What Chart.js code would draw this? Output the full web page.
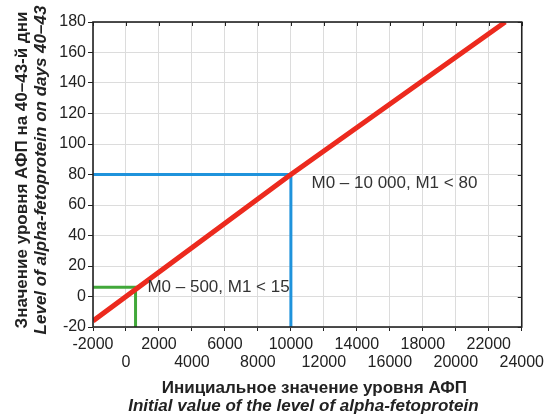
<!DOCTYPE html>
<html>
<head>
<meta charset="utf-8">
<script src="https://cdn.jsdelivr.net/npm/chart.js@4"></script>
<style>
  html, body { margin: 0; padding: 0; background: #fff; }
  #wrap { width: 549px; height: 418px; }
</style>
</head>
<body>
<div id="wrap"><canvas id="chart" width="549" height="418"></canvas></div>
<script>
// axis ranges and ticks
const xTicks = [-2000, 0, 2000, 4000, 6000, 8000, 10000, 12000, 14000, 16000, 18000, 20000, 22000, 24000];
const yTicks = [-20, 0, 20, 40, 60, 80, 100, 120, 140, 160, 180];

// regression line
const lineX = [-2000, 10000, 23000];
const lineY = [-16, 80, 180];

// threshold guides
const blueX = [-2000, 10000, 10000];
const blueY = [80, 80, -20];
const greenX = [-2000, 580, 580];
const greenY = [6, 6, -20];

// annotation labels
const notes = [
  { text: 'M0 – 10 000, M1 < 80', x: 11250, y: 74 },
  { text: 'M0 – 500, M1 < 15', x: 1300, y: 6 }
];

const yTitle = ['Значение уровня АФП на 40–43-й дни', 'Level of alpha-fetoprotein on days 40–43'];
const xTitle = ['Инициальное значение уровня АФП', 'Initial value of the level of alpha-fetoprotein'];

const pts = (xs, ys) => xs.map((x, i) => ({ x: x, y: ys[i] }));
const FONT = '"Liberation Sans", Arial, sans-serif';

const framePlugin = {
  id: 'frame',
  afterDatasetsDraw(chart) {
    const { ctx, chartArea: a, scales } = chart;
    ctx.save();
    // ticks on top and right
    ctx.strokeStyle = '#222';
    ctx.lineWidth = 1;
    ctx.beginPath();
    xTicks.forEach(v => {
      const px = Math.round(scales.x.getPixelForValue(v)) + 0.5;
      ctx.moveTo(px, a.top); ctx.lineTo(px, a.top + 4);
    });
    yTicks.forEach(v => {
      const py = Math.round(scales.y.getPixelForValue(v)) + 0.5;
      ctx.moveTo(a.right, py); ctx.lineTo(a.right - 4, py);
    });
    ctx.stroke();
    ctx.lineWidth = 1.6;
    ctx.strokeRect(a.left, a.top, a.right - a.left, a.bottom - a.top);

    // annotations
    ctx.fillStyle = '#333';
    ctx.font = '17px ' + FONT;
    ctx.textBaseline = 'middle';
    ctx.textAlign = 'left';
    notes.forEach(n => {
      ctx.fillText(n.text, scales.x.getPixelForValue(n.x), scales.y.getPixelForValue(n.y));
    });

    // axis titles
    ctx.fillStyle = '#222';
    ctx.textAlign = 'center';
    const cx = (a.left + a.right) / 2;
    ctx.font = 'bold 17px ' + FONT;
    ctx.fillText(xTitle[0], cx + 7, 388);
    ctx.font = 'italic bold 17px ' + FONT;
    ctx.fillText(xTitle[1], cx - 4, 406);

    ctx.translate(22, 170);
    ctx.rotate(-Math.PI / 2);
    ctx.font = 'bold 17px ' + FONT;
    ctx.fillText(yTitle[0], 0, 0);
    ctx.font = 'italic bold 17px ' + FONT;
    ctx.fillText(yTitle[1], 0, 19);
    ctx.restore();
  }
};

new Chart(document.getElementById('chart'), {
  type: 'line',
  data: {
    datasets: [
      { data: pts(lineX, lineY), borderColor: '#ec2a1e', borderWidth: 5, order: 0 },
      { data: pts(blueX, blueY), borderColor: '#1f93dc', borderWidth: 3, order: 1 },
      { data: pts(greenX, greenY), borderColor: '#41a83a', borderWidth: 3, order: 1 }
    ]
  },
  options: {
    responsive: false,
    animation: false,
    layout: { padding: { left: 0, right: 24, top: 22, bottom: 0 } },
    elements: { point: { radius: 0 }, line: { tension: 0, borderCapStyle: 'butt' } },
    plugins: { legend: { display: false }, tooltip: { enabled: false } },
    scales: {
      x: {
        type: 'linear', min: -2000, max: 24000,
        afterFit: s => { s.height = 91; },
        afterBuildTicks: s => { s.ticks = xTicks.map(v => ({ value: v })); },
        grid: { color: '#dcdcdc', tickColor: '#222', tickLength: 4 },
        border: { display: false },
        ticks: {
          autoSkip: false, maxRotation: 0, padding: 5, color: '#222',
          font: { family: FONT, size: 16, lineHeight: 1.1 },
          callback: (v, i) => i % 2 === 0 ? [String(v), ''] : ['', String(v)]
        }
      },
      y: {
        type: 'linear', min: -20, max: 180,
        afterFit: s => { s.width = 93; },
        afterBuildTicks: s => { s.ticks = yTicks.map(v => ({ value: v })); },
        grid: { color: '#dcdcdc', tickColor: '#222', tickLength: 5 },
        border: { display: false },
        ticks: { padding: 2, color: '#222', font: { family: FONT, size: 16 } }
      }
    }
  },
  plugins: [framePlugin]
});
</script>
</body>
</html>
